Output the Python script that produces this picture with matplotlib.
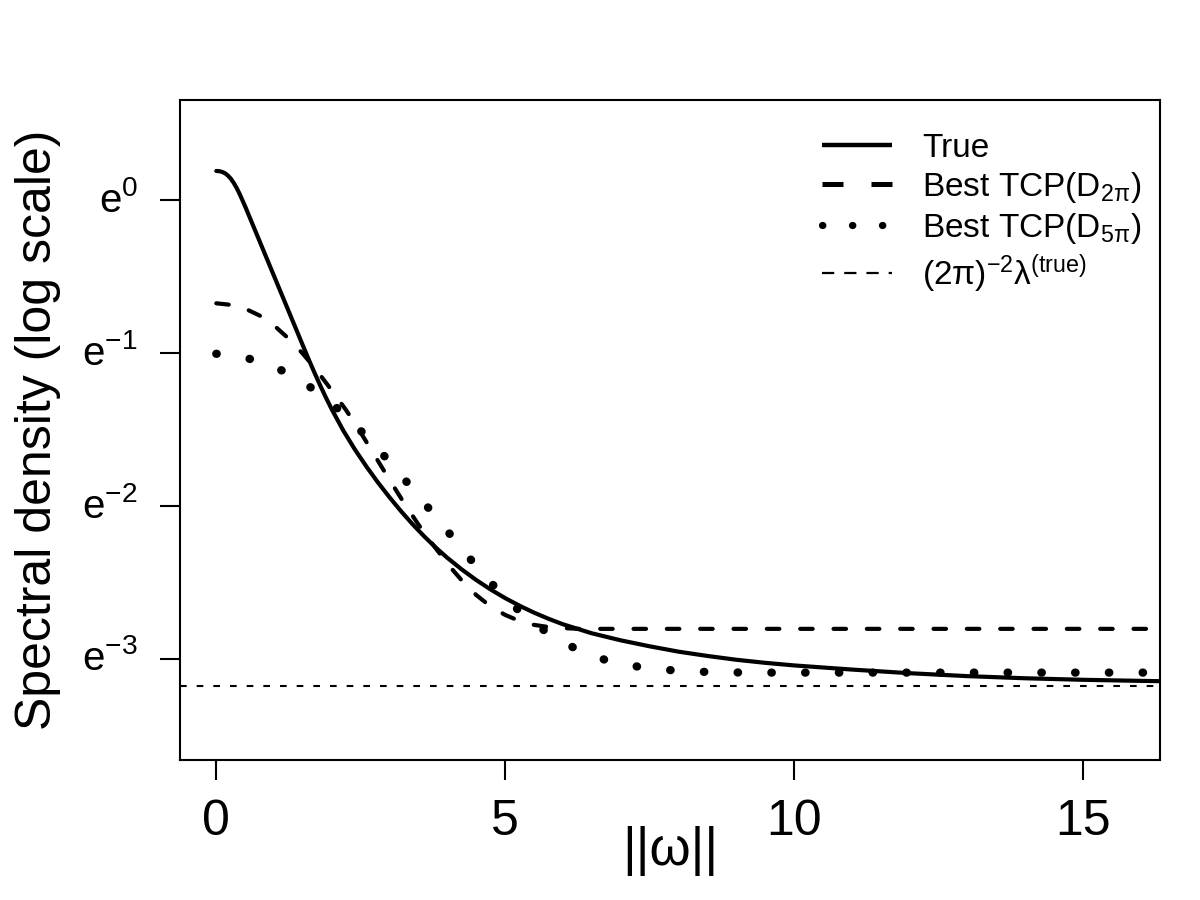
import numpy as np
import matplotlib
matplotlib.use("Agg")
import matplotlib.pyplot as plt
from matplotlib.lines import Line2D

# ||omega|| grid and log spectral densities
true_w = [0.0, 0.05, 0.1, 0.15, 0.2, 0.25, 0.3, 0.35, 0.4, 0.5, 0.6, 0.7, 0.8,
          0.9, 1.0, 1.1, 1.2, 1.3, 1.4, 1.5, 1.6, 1.7, 1.8, 1.9, 2.0, 2.2, 2.4,
          2.6, 2.8, 3.0, 3.2, 3.4, 3.6, 3.8, 4.0, 4.25, 4.5, 4.75, 5.0, 5.25,
          5.5, 5.75, 6.0, 6.5, 7.0, 7.5, 8.0, 8.5, 9.0, 9.5, 10.0, 11.0, 12.0,
          13.0, 14.0, 15.0, 16.0, 16.5]
true_logf = [0.19, 0.1888, 0.184, 0.1752, 0.1605, 0.140, 0.113, 0.0805, 0.043,
             -0.042, -0.133, -0.224, -0.315, -0.406, -0.497, -0.588, -0.679,
             -0.770, -0.861, -0.952, -1.042, -1.129, -1.213, -1.293, -1.369,
             -1.508, -1.631, -1.743, -1.847, -1.944, -2.035, -2.12, -2.199,
             -2.272, -2.339, -2.415, -2.484, -2.546, -2.602, -2.652, -2.697,
             -2.737, -2.773, -2.832, -2.878, -2.917, -2.952, -2.98, -3.005,
             -3.025, -3.042, -3.069, -3.093, -3.112, -3.126, -3.136, -3.143,
             -3.146]

tcp2_w = [0.0, 0.25, 0.5, 0.75, 1.0, 1.25, 1.5, 1.75, 2.0, 2.25, 2.5, 2.75,
          3.0, 3.25, 3.5, 3.75, 4.0, 4.25, 4.5, 4.75, 5.0, 5.25, 5.5, 5.75,
          6.0, 6.28, 8.0, 10.0, 12.0, 14.0, 16.5]
tcp2_logf = [-0.675, -0.685, -0.710, -0.755, -0.820, -0.905, -1.005, -1.120,
             -1.245, -1.375, -1.520, -1.675, -1.830, -1.980, -2.122, -2.252,
             -2.377, -2.487, -2.582, -2.657, -2.712, -2.752, -2.777, -2.791,
             -2.798, -2.803, -2.803, -2.803, -2.803, -2.803, -2.803]

tcp5_w = [0.0, 0.25, 0.5, 0.75, 1.0, 1.25, 1.5, 1.75, 2.0, 2.25, 2.5, 2.75,
          3.0, 3.25, 3.5, 3.75, 4.0, 4.25, 4.5, 4.75, 5.0, 5.25, 5.5, 5.75,
          6.0, 6.25, 6.5, 6.75, 7.0, 7.5, 8.0, 8.5, 9.0, 9.5, 12.0, 14.0, 16.5]
tcp5_logf = [-1.005, -1.01, -1.03, -1.057, -1.09, -1.135, -1.19, -1.255,
             -1.33, -1.415, -1.508, -1.607, -1.712, -1.822, -1.935, -2.048,
             -2.163, -2.28, -2.393, -2.50, -2.598, -2.688, -2.765, -2.833,
             -2.89, -2.938, -2.977, -3.008, -3.032, -3.062, -3.077, -3.085,
             -3.088, -3.089, -3.089, -3.089, -3.089]

nugget_logf = -3.174
w_max = 5 * np.pi
ytick_pow = [0, -1, -2, -3]
ytick_labels = [r"$\mathrm{e}^{0}$", r"$\mathrm{e}^{-1}$", r"$\mathrm{e}^{-2}$", r"$\mathrm{e}^{-3}$"]
legend_labels = ["True", r"Best TCP(D$_{\mathrm{2π}}$)", r"Best TCP(D$_{\mathrm{5π}}$)",
                 r"$\mathrm{(2π)}^{-2}\mathrm{λ}^{\mathrm{(true)}}$"]

plt.rcParams["font.family"] = ["Liberation Sans", "DejaVu Sans"]
plt.rcParams["mathtext.fontset"] = "custom"
plt.rcParams["mathtext.rm"] = "Liberation Sans"
plt.rcParams["mathtext.it"] = "Liberation Sans:italic"
plt.rcParams["mathtext.bf"] = "Liberation Sans:bold"

fig = plt.figure(figsize=(6, 4.5), dpi=200)
ax = fig.add_axes([0.15, 0.1556, 0.8167, 0.7333])
ax.set_yscale("log", base=np.e)

ax.plot(true_w, np.exp(true_logf), color="black", lw=1.5, solid_capstyle="round")
ax.plot(tcp2_w, np.exp(tcp2_logf), color="black", lw=1.5,
        linestyle=(0, (3, 5)), dash_capstyle="round")
ax.plot(tcp5_w, np.exp(tcp5_logf), color="black", lw=3.0,
        linestyle=(0, (0.05, 4.0)), dash_capstyle="round")
ax.axhline(np.exp(nugget_logf), color="black", lw=0.75, linestyle=(0, (3.2, 4.8)))

ax.set_xlim(-0.04 * w_max, 1.04 * w_max)
ax.set_ylim(np.exp(-3.66), np.exp(0.654))

ax.set_xticks([0, 5, 10, 15])
ax.set_xticklabels(["0", "5", "10", "15"], fontsize=18)
ax.set_yticks(np.exp(ytick_pow))
ax.set_yticklabels(ytick_labels, fontsize=14.5, va="center")
ax.yaxis.set_minor_locator(plt.NullLocator())
ax.tick_params(axis="x", length=7.2, width=0.75, pad=7)
ax.tick_params(axis="y", length=7.2, width=0.75, pad=8)
for s in ax.spines.values():
    s.set_linewidth(0.75)

ax.set_xlabel("||ω||", fontsize=19, labelpad=-7)
ax.set_ylabel("Spectral density (log scale)", fontsize=18, labelpad=7.5)

# legend keys drawn a bit heavier than the curves, as in the original
handles = [
    Line2D([], [], color="black", lw=1.6, solid_capstyle="butt"),
    Line2D([], [], color="black", lw=1.8, linestyle=(0, (4.2, 5.6)), dash_capstyle="butt"),
    Line2D([], [], color="black", lw=2.6, linestyle=(0, (0.05, 4.1)), dash_capstyle="round"),
    Line2D([], [], color="black", lw=0.8, linestyle=(0, (5.5, 4.5)), dash_capstyle="butt"),
]
ax.legend(handles, legend_labels, loc="upper left", bbox_to_anchor=(0.655, 0.95),
          frameon=False, fontsize=12, handlelength=2.1, handletextpad=0.9,
          labelspacing=0.18, borderpad=0, borderaxespad=0)

fig.savefig("out.png", dpi=200)
